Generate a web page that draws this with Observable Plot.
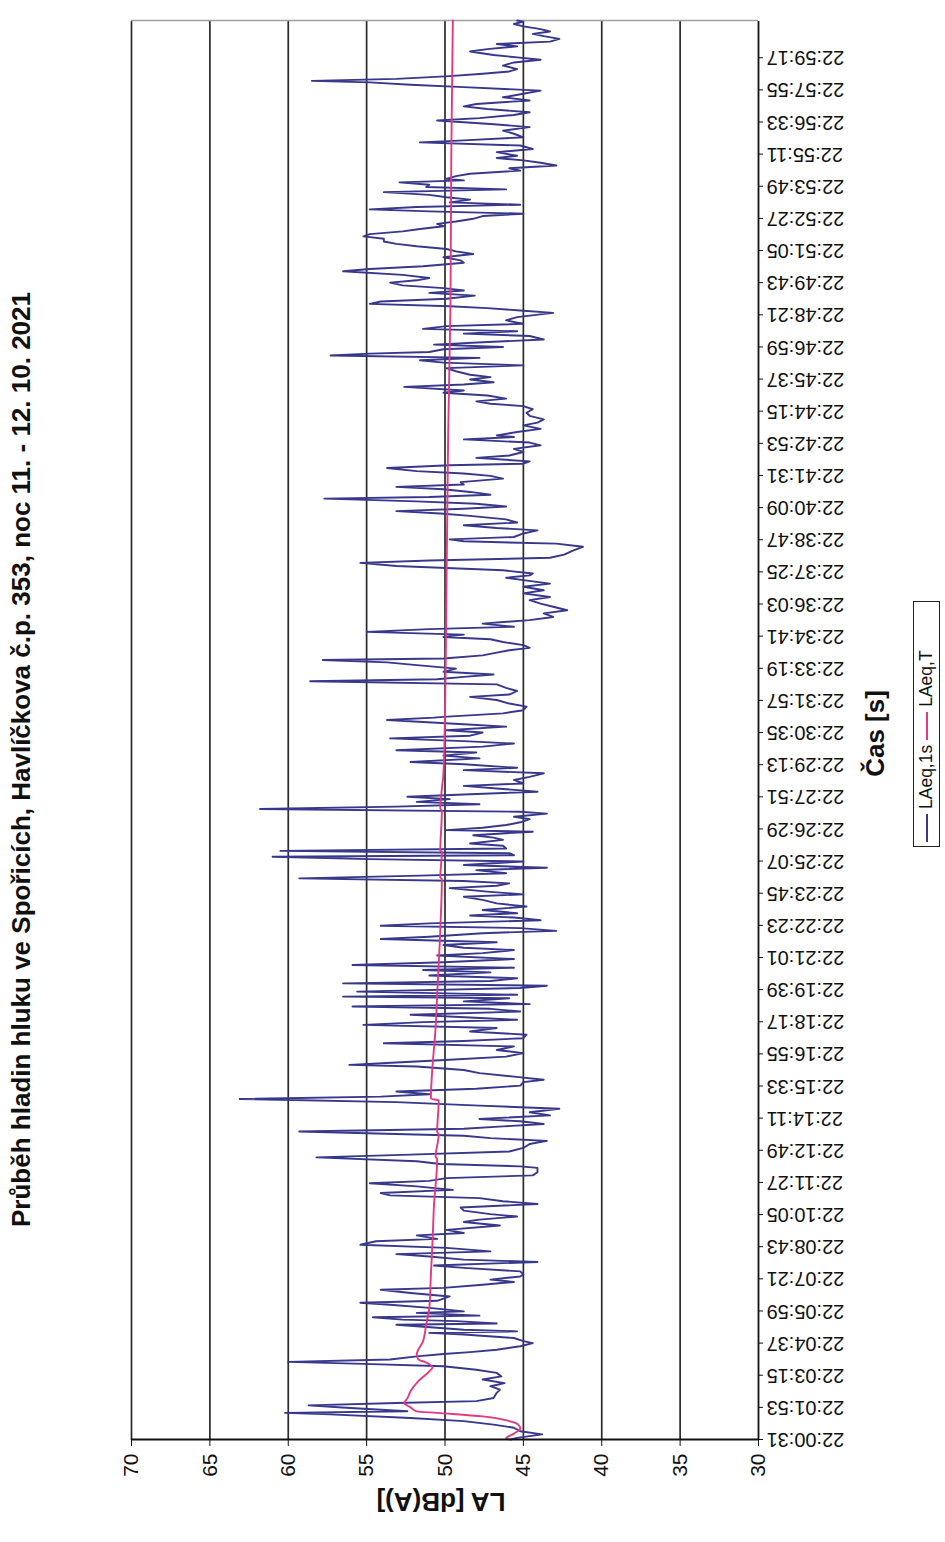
<!DOCTYPE html>
<html>
<head>
<meta charset="utf-8">
<script src="https://cdn.jsdelivr.net/npm/d3@7"></script>
<script src="https://cdn.jsdelivr.net/npm/@observablehq/plot@0.6"></script>
<style>
  html, body { margin: 0; padding: 0; background: #fff; }
  #page { position: relative; width: 945px; height: 1542px; overflow: hidden; background: #fff; }
  #edge { position: absolute; left: 2px; top: 0; width: 2px; height: 1542px; background: #444; }
  #land { position: absolute; left: 0; top: 0; width: 1542px; height: 945px;
          transform-origin: 0 0; transform: translate(0px, 1542px) rotate(-90deg); }
  #legend { position: absolute; left: 695px; top: 913px; width: 246px; height: 27px;
            border: 1.6px solid #222; background: #fff; font: 17.5px "Liberation Sans", Arial, sans-serif;
            color: #111; display: flex; align-items: center; box-sizing: border-box; padding-left: 4px; }
  #legend .sw { display: inline-block; width: 28px; height: 0; border-top: 2px solid; margin-right: 5px; }
  #legend .lab { margin-right: 5px; }
</style>
</head>
<body>
<div id="page">
  <div id="edge"></div>
  <div id="land"></div>
</div>
<script>
const title = "Průběh hladin hluku ve Spořicích, Havlíčkova č.p. 353, noc 11. - 12. 10. 2021";
const yLabel = "LA [dB(A)]";
const xLabel = "Čas [s]";
const seriesNames = ["LAeq,1s", "LAeq,T"];
const seriesColors = ["#37378c", "#e23a82"];
const valueTicks = [30, 35, 40, 45, 50, 55, 60, 65, 70];
const timeLabels = ["22:00:31","22:01:53","22:03:15","22:04:37","22:05:59","22:07:21","22:08:43","22:10:05",
  "22:11:27","22:12:49","22:14:11","22:15:33","22:16:55","22:18:17","22:19:39","22:21:01","22:22:23",
  "22:23:45","22:25:07","22:26:29","22:27:51","22:29:13","22:30:35","22:31:57","22:33:19","22:34:41",
  "22:36:03","22:37:25","22:38:47","22:40:09","22:41:31","22:42:53","22:44:15","22:45:37","22:46:59",
  "22:48:21","22:49:43","22:51:05","22:52:27","22:53:49","22:55:11","22:56:33","22:57:55","22:59:17"];
const labelStep = 82;     // seconds between category labels
const lastSecond = 3621;  // seconds since 22:00:31

// LAeq,1s : [seconds since 22:00:31, dB(A)]
const laeq1s = [[0,45.8],[4,45.4],[13,43.8],[21,45.2],[30,45.6],[38,46.9],[47,48.8],[55,52.2],[64,57.3],[68,60.2],[72,52.4],[81,56.3],[87,58.7],[93,53.1],[98,48.0],[106,46.9],[119,46.7],[127,46.5],[136,47.1],[144,46.2],[153,47.6],[161,46.4],[170,46.7],[178,48.0],[187,50.1],[193,55.2],[198,60.0],[204,53.5],[212,51.8],[218,50.1],[223,48.4],[229,46.7],[238,45.2],[246,44.4],[251,45.0],[259,45.6],[268,48.8],[272,51.0],[276,45.4],[280,48.8],[289,51.8],[293,53.1],[296,46.7],[302,49.3],[306,52.7],[312,54.6],[316,47.8],[323,51.8],[327,48.8],[336,51.0],[344,53.5],[349,55.4],[354,50.5],[365,49.7],[374,52.2],[382,54.1],[387,50.1],[395,47.6],[402,45.6],[408,47.1],[416,45.2],
[421,45.0],[429,45.2],[438,48.8],[444,50.7],[453,44.1],[459,48.8],[467,51.0],[473,53.1],[480,47.1],[489,49.9],[497,55.4],[506,54.4],[512,50.5],[521,51.8],[527,48.8],[535,49.9],[546,46.5],[555,48.8],[561,47.8],[569,45.4],[575,47.1],[584,48.8],[592,49.0],[601,44.1],[608,46.3],[616,47.8],[623,53.5],[629,54.1],[637,49.5],[646,51.8],[654,54.8],[660,51.0],[667,49.9],[674,44.4],[682,44.1],[693,44.1],[697,45.2],[703,50.3],[710,51.8],[720,58.2],[727,52.2],[735,45.9],[744,45.0],[754,44.6],[762,43.5],[769,47.1],[775,48.8],
[786,59.3],[793,48.8],[799,46.3],[805,43.7],[812,45.2],[818,47.8],[827,43.3],[835,44.6],[844,42.7],[852,47.8],[861,53.1],[869,63.1],[875,54.1],[881,51.0],[888,53.1],[895,48.0],[903,45.2],[912,45.0],[918,43.7],[926,45.6],[935,47.8],[943,48.8],[952,51.8],[956,56.1],[962,53.1],[969,49.7],[977,46.1],[986,45.0],[994,46.7],[1003,45.6],[1011,53.9],[1017,48.8],[1024,45.0],[1033,44.8],[1041,48.4],[1050,46.7],[1058,55.2],[1065,51.4],[1071,45.4],[1077,48.4],[1084,52.2],[1092,45.2],[1099,47.1],[1105,55.9],[1111,44.6],[1118,48.8],[1126,45.9],[1130,56.5],
[1135,45.4],[1143,55.6],[1152,45.2],[1158,43.5],[1164,56.5],[1170,47.1],[1177,45.4],[1184,51.0],[1192,47.1],[1198,51.4],[1204,45.6],[1211,55.9],[1218,50.1],[1226,45.6],[1235,50.5],[1241,47.6],[1249,45.6],[1255,48.8],[1262,50.1],[1269,46.7],[1277,54.1],[1283,51.0],[1292,47.6],[1298,42.9],[1305,45.2],[1311,54.1],[1317,51.0],[1325,43.9],[1332,45.6],[1337,48.4],[1343,45.4],[1351,47.6],[1360,44.8],[1368,46.7],[1377,47.6],[1385,48.8],[1391,45.0],[1398,47.3],[1407,49.7],[1413,46.7],[1419,45.9],[1425,48.8],[1432,59.3],[1439,51.6],[1445,46.1],[1453,48.0],[1459,43.5],[1466,48.8],[1475,45.0],[1481,54.8],[1487,61.0],
[1491,45.6],[1496,45.9],[1502,60.5],[1508,46.1],[1515,46.3],[1521,48.4],[1530,46.3],[1536,46.9],[1542,48.2],[1551,44.4],[1555,49.9],[1561,47.6],[1568,46.1],[1575,45.2],[1583,44.6],[1589,45.6],[1597,43.5],[1602,45.2],[1609,61.8],[1615,53.1],[1621,47.8],[1627,51.8],[1634,49.7],[1640,52.4],[1646,48.8],[1653,44.1],[1660,46.3],[1668,48.8],[1674,45.0],[1683,45.6],[1691,44.6],[1700,43.7],[1708,48.8],[1714,45.4],[1723,48.8],[1729,52.2],[1738,47.8],[1745,50.1],[1753,48.0],[1759,53.1],[1768,47.6],[1776,45.6],[1782,48.8],[1789,53.5],[1796,48.4],[1804,47.6],[1810,49.9],[1819,46.1],[1825,48.8],[1836,53.7],[1842,50.7],
[1844,50.1],[1853,46.3],[1861,45.0],[1870,44.8],[1878,45.9],[1887,46.7],[1895,48.4],[1901,45.9],[1910,45.4],[1918,46.1],[1927,46.7],[1935,58.6],[1940,50.5],[1946,48.8],[1952,46.9],[1959,50.1],[1967,49.3],[1976,51.8],[1983,53.7],[1989,57.8],[1993,50.1],[2001,47.6],[2008,46.7],[2014,45.9],[2020,44.6],[2027,45.0],[2035,46.3],[2042,47.1],[2048,50.1],[2054,48.8],[2061,55.0],[2068,51.0],[2074,45.6],[2082,47.6],[2091,44.6],[2099,43.1],[2108,43.7],[2116,42.2],[2125,43.1],[2133,43.9],[2142,44.6],[2150,43.3],[2159,45.0],[2167,43.7],[2176,45.0],[2184,43.3],[2193,45.0],[2199,46.1],
[2205,44.6],[2210,44.4],[2218,46.3],[2224,49.9],[2229,53.1],[2237,55.4],[2243,51.0],[2250,43.3],[2258,42.4],[2269,41.8],[2278,41.2],[2286,42.9],[2292,48.8],[2297,49.7],[2303,45.6],[2312,45.0],[2320,44.1],[2326,46.7],[2333,48.8],[2340,45.4],[2348,46.1],[2357,48.4],[2363,50.3],[2369,53.1],[2375,48.8],[2381,46.1],[2388,48.0],[2394,51.8],[2401,57.7],[2405,51.0],[2411,47.1],[2418,48.4],[2425,50.1],[2431,53.1],[2437,48.8],[2443,49.0],[2452,46.3],[2459,47.1],[2465,48.8],[2471,51.8],[2479,53.7],[2486,49.7],[2490,45.0],[2496,44.6],[2505,48.0],[2511,45.9],[2520,45.0],[2528,45.6],[2537,43.9],[2544,44.6],[2552,48.8],[2558,45.6],
[2562,46.7],[2571,45.4],[2579,43.9],[2588,45.0],[2595,44.1],[2603,43.7],[2612,44.6],[2620,44.8],[2629,44.4],[2637,45.0],[2643,47.1],[2649,48.0],[2656,46.1],[2664,47.3],[2671,50.1],[2677,48.8],[2686,52.6],[2692,48.8],[2698,46.9],[2705,48.4],[2711,47.1],[2717,48.4],[2726,49.3],[2734,49.9],[2741,45.0],[2748,50.1],[2754,51.6],[2760,47.8],[2766,57.3],[2771,54.8],[2775,51.0],[2782,50.1],[2788,46.3],[2794,50.7],[2800,47.6],[2807,43.7],[2816,44.6],[2822,48.8],[2828,45.4],[2834,51.4],[2841,49.9],[2847,45.0],[2856,46.1],[2864,45.4],[2875,43.1],[2881,45.2],[2887,47.3],[2892,49.7],[2898,54.8],[2904,54.1],[2911,49.9],
[2919,48.1],[2926,51.0],[2932,48.8],[2938,50.1],[2945,52.7],[2952,53.5],[2958,51.8],[2964,51.0],[2972,52.7],[2981,56.5],[2987,54.8],[2994,51.4],[3003,48.8],[3009,49.0],[3017,50.1],[3025,48.2],[3032,49.3],[3038,49.9],[3045,51.8],[3051,53.1],[3057,53.9],[3064,53.9],[3070,55.2],[3076,54.8],[3083,52.7],[3089,51.6],[3096,50.1],[3102,50.5],[3108,49.3],[3115,48.2],[3122,47.6],[3128,45.0],[3134,51.0],[3139,54.8],[3145,51.8],[3151,45.2],[3157,49.7],[3164,48.4],[3170,49.9],[3176,51.0],[3183,53.9],[3190,46.1],[3196,51.2],[3202,51.0],[3208,52.9],[3213,48.8],[3217,49.9],[3224,49.3],[3230,48.4],[3238,45.2],[3244,45.9],[3251,42.9],[3258,43.9],[3264,45.0],[3270,46.7],
[3276,45.4],[3285,46.7],[3293,44.4],[3302,45.2],[3310,51.6],[3315,48.8],[3323,45.0],[3332,45.6],[3340,46.3],[3349,44.6],[3357,47.1],[3366,50.5],[3372,47.8],[3380,45.6],[3387,44.6],[3395,47.3],[3402,48.8],[3408,48.0],[3417,44.6],[3425,46.3],[3434,45.0],[3442,43.9],[3451,48.8],[3457,52.2],[3463,54.8],[3467,58.5],[3472,53.1],[3479,49.7],[3485,47.6],[3491,45.9],[3497,45.4],[3506,46.3],[3514,45.6],[3521,43.9],[3527,45.4],[3533,46.9],[3542,48.4],[3548,47.3],[3555,45.4],[3561,46.7],[3567,43.3],[3574,42.7],[3581,43.7],[3587,44.4],[3593,43.3],[3599,43.9],[3606,45.0],[3612,45.6],[3618,45.0],[3621,45.4]];

// LAeq,T : [seconds since 22:00:31, dB(A)]
const laeqT = [[0,45.9],[3,46.1],[15,45.6],[28,45.2],[40,45.4],[47,45.9],[59,47.6],[68,50.5],[72,51.8],[82,52.2],[93,52.6],[105,52.4],[123,52.2],[149,51.7],[174,51.0],[184,50.8],[198,51.3],[204,51.7],[217,51.8],[251,51.4],[293,51.2],[336,51.0],[421,50.9],[500,50.8],[600,50.7],[715,50.5],[722,50.6],[778,50.4],[786,50.5],[865,50.4],[870,50.9],[950,50.8],[1050,50.6],[1134,50.5],[1300,50.3],[1430,50.2],[1434,50.3],[1500,50.2],[1503,50.3],[1605,50.2],[1610,50.3],[1700,50.1],[1848,50.0],[2000,49.95],[2200,49.9],[2560,49.8],[2900,49.65],[3270,49.6],[3621,49.5]];

const tickSeconds = timeLabels.map((_, i) => i * labelStep);
const font = "Liberation Sans, Arial, sans-serif";

const chart = Plot.plot({
  width: 1542,
  height: 945,
  marginLeft: 102,
  marginRight: 21,
  marginTop: 131,
  marginBottom: 187,
  style: {background: "#fff", fontFamily: font, color: "#111", overflow: "visible"},
  x: {domain: [0, lastSecond]},
  y: {domain: [30, 70]},
  marks: [
    Plot.ruleY(valueTicks.filter(v => v > 30), {stroke: "#2a2a2a", strokeWidth: 1.7}),
    Plot.ruleX([lastSecond], {stroke: "#a0a0a0", strokeWidth: 1.5}),
    Plot.line(laeq1s, {x: d => d[0], y: d => d[1], stroke: seriesColors[0], strokeWidth: 1.9}),
    Plot.line(laeqT, {x: d => d[0], y: d => d[1], stroke: seriesColors[1], strokeWidth: 1.9, curve: "monotone-x"}),
    Plot.ruleX([0], {stroke: "#111", strokeWidth: 1.8}),
    Plot.ruleY([30], {stroke: "#111", strokeWidth: 1.8}),
    Plot.axisY({ticks: valueTicks, tickSize: 6, tickPadding: 8, fontSize: 21, label: null, stroke: "#111"}),
    Plot.axisX({ticks: tickSeconds, tickFormat: d => timeLabels[Math.round(d / labelStep)],
      tickRotate: -90, tickSize: 5, tickPadding: 3, fontSize: 20, label: null, stroke: "#111"}),
    Plot.text([title], {frameAnchor: "top-left", dx: 680, dy: -110, fontSize: 26, fontWeight: "bold",
      textAnchor: "middle", lineAnchor: "middle", fill: "#111"}),
    Plot.text([yLabel], {frameAnchor: "left", dx: -62, dy: -4, rotate: -90, fontSize: 26, fontWeight: "bold",
      textAnchor: "middle", lineAnchor: "middle", fill: "#111"}),
    Plot.text([xLabel], {frameAnchor: "bottom-left", dx: 706, dy: 117, fontSize: 26, fontWeight: "bold",
      textAnchor: "middle", lineAnchor: "middle", fill: "#111"})
  ]
});

const land = document.getElementById("land");
land.appendChild(chart);

const legend = document.createElement("div");
legend.id = "legend";
seriesNames.forEach((name, i) => {
  const sw = document.createElement("span");
  sw.className = "sw";
  sw.style.borderTopColor = seriesColors[i];
  const lab = document.createElement("span");
  lab.className = "lab";
  lab.textContent = name;
  legend.appendChild(sw);
  legend.appendChild(lab);
});
land.appendChild(legend);
</script>
</body>
</html>
